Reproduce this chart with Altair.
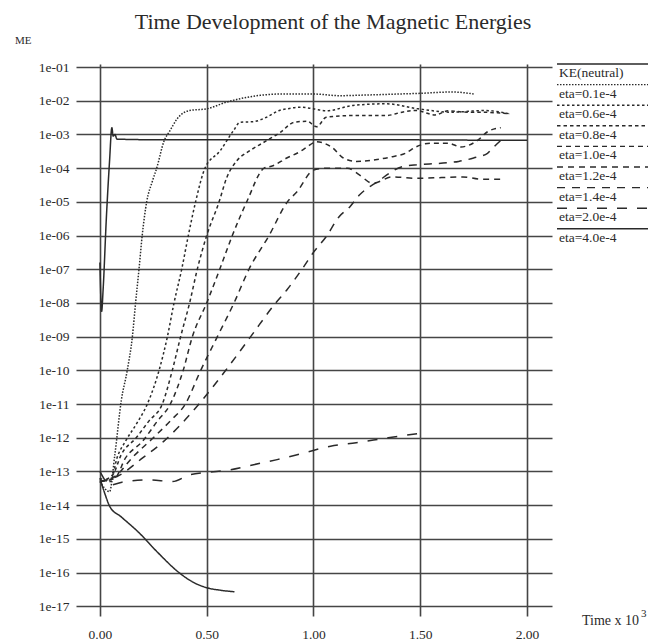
import altair as alt
import pandas as pd

# ---------------- data (log10 of ME) ----------------
series_names = ["KE(neutral)", "eta=0.1e-4", "eta=0.6e-4", "eta=0.8e-4", "eta=1.0e-4",
                "eta=1.2e-4", "eta=1.4e-4", "eta=2.0e-4", "eta=4.0e-4"]

t_ke = [0.0, 0.008, 0.015, 0.03, 0.045, 0.056, 0.062, 0.07, 0.08, 0.3, 0.6, 1.0, 1.4, 1.8, 2.0]
lg_ke = [-6.8, -8.25, -7.6, -5.5, -3.8, -2.8, -3.05, -3.0, -3.14, -3.16, -3.16, -3.16, -3.16, -3.17, -3.17]

t_01 = [0.0, 0.045, 0.07, 0.1, 0.128, 0.152, 0.167, 0.183, 0.198, 0.219, 0.245, 0.266, 0.3,
        0.328, 0.36, 0.42, 0.5, 0.594, 0.75, 0.85, 1.0, 1.12, 1.25, 1.4, 1.5, 1.65, 1.75]
lg_01 = [-13.3, -13.6, -12.5, -10.9, -10.0, -9.0, -8.0, -7.0, -6.0, -5.0, -4.4, -4.0, -3.2,
         -2.89, -2.55, -2.29, -2.24, -2.04, -1.84, -1.8, -1.8, -1.85, -1.83, -1.8, -1.78, -1.74, -1.8]

t_06 = [0.0, 0.05, 0.08, 0.12, 0.17, 0.222, 0.277, 0.316, 0.347, 0.383, 0.414, 0.448, 0.492,
        0.5625, 0.625, 0.656, 0.72, 0.78, 0.84, 0.877, 0.94, 1.0, 1.06, 1.185, 1.34, 1.49, 1.65, 1.8, 1.92]
lg_06 = [-13.2, -13.3, -12.6, -12.1, -11.6, -11.0, -10.0, -9.0, -8.0, -7.0, -6.0, -5.0, -4.0,
         -3.49, -2.89, -2.64, -2.62, -2.49, -2.29, -2.24, -2.19, -2.24, -2.3, -2.14, -2.09, -2.24, -2.34, -2.29, -2.39]

t_08 = [0.0, 0.06, 0.1, 0.17, 0.23, 0.292, 0.339, 0.378, 0.42, 0.456, 0.5, 0.558, 0.594, 0.64,
        0.70, 0.766, 0.844, 0.91, 0.97, 1.015, 1.06, 1.185, 1.34, 1.415, 1.48, 1.57, 1.63, 1.72, 1.785, 1.86, 1.92]
lg_08 = [-13.3, -13.1, -12.5, -12.0, -11.5, -11.0, -10.0, -9.0, -8.0, -7.0, -6.0, -5.0, -4.28, -3.79,
         -3.49, -3.24, -2.94, -2.64, -2.61, -2.77, -2.49, -2.44, -2.44, -2.34, -2.29, -2.42, -2.3, -2.34, -2.34, -2.36, -2.39]

t_10 = [0.0, 0.07, 0.12, 0.2, 0.27, 0.33, 0.39, 0.433, 0.5, 0.561, 0.62, 0.6875, 0.769, 0.81,
        0.875, 0.94, 0.97, 1.015, 1.09, 1.14, 1.2, 1.29, 1.37, 1.43, 1.48, 1.55, 1.63, 1.69, 1.77, 1.815, 1.877]
lg_10 = [-13.3, -13.2, -12.6, -12.1, -11.5, -11.0, -10.0, -9.0, -8.0, -7.0, -6.0, -5.0, -4.0, -3.93,
         -3.7, -3.5, -3.37, -3.22, -3.4, -3.7, -3.8, -3.75, -3.66, -3.56, -3.37, -3.26, -3.26, -3.37, -3.17, -2.92, -2.8]

t_12 = [0.0, 0.08, 0.15, 0.25, 0.33, 0.40, 0.472, 0.55, 0.628, 0.698, 0.792, 0.878, 0.923, 1.0,
        1.06, 1.16, 1.215, 1.277, 1.37, 1.48, 1.6, 1.7, 1.785, 1.885]
lg_12 = [-13.3, -13.1, -12.6, -12.0, -11.5, -11.0, -10.0, -9.0, -8.0, -7.0, -6.0, -5.0, -4.7, -4.06,
         -4.0, -4.0, -4.2, -4.45, -4.26, -4.3, -4.28, -4.26, -4.33, -4.33]

t_14 = [0.0, 0.08, 0.2, 0.3, 0.38, 0.464, 0.589, 0.706, 0.823, 0.877, 0.954, 1.0, 1.06, 1.12,
        1.17, 1.215, 1.3, 1.415, 1.49, 1.585, 1.68, 1.75, 1.815, 1.84, 1.89]
lg_14 = [-13.3, -13.15, -12.6, -12.1, -11.6, -11.0, -10.0, -9.0, -8.0, -7.6, -6.93, -6.5, -6.03, -5.44,
         -5.15, -4.8, -4.4, -3.96, -3.9, -3.86, -3.8, -3.7, -3.56, -3.4, -3.1]

t_20 = [0.0, 0.05, 0.103, 0.23, 0.34, 0.42, 0.5, 0.61, 0.72, 0.83, 0.956, 1.08, 1.2, 1.35, 1.52]
lg_20 = [-13.0, -13.4, -13.32, -13.25, -13.3, -13.1, -13.03, -12.95, -12.8, -12.65, -12.45, -12.25, -12.15, -12.0, -11.85]

t_40 = [0.0, 0.02, 0.047, 0.1, 0.18, 0.27, 0.37, 0.44, 0.5, 0.57, 0.63]
lg_40 = [-13.2, -13.6, -14.05, -14.35, -14.8, -15.4, -16.0, -16.3, -16.45, -16.53, -16.57]

times = [t_ke, t_01, t_06, t_08, t_10, t_12, t_14, t_20, t_40]
logs = [lg_ke, lg_01, lg_06, lg_08, lg_10, lg_12, lg_14, lg_20, lg_40]

dash_styles = [[1, 0], [1.5, 1.5], [2.5, 2.5], [3.5, 3], [5, 4], [6, 5], [8, 7], [10, 10], [1, 0]]

y_tick_values = [10.0 ** -k for k in range(1, 18)]
x_tick_values = [0.0, 0.5, 1.0, 1.5, 2.0]

rows = []
for name, ts, ls in zip(series_names, times, logs):
    for t, l in zip(ts, ls):
        rows.append({"series": name, "t": t, "me": 10.0 ** l})
df = pd.DataFrame(rows)

# ---------------- styling ----------------
FONT = "Liberation Serif"
INK = "#2a2a2a"
GRID = "#454545"
W, H = 476, 552

one = pd.DataFrame({"a": [0]})

lines = alt.Chart(df).mark_line(strokeWidth=1.5, color=INK, interpolate="monotone").encode(
    x=alt.X("t:Q",
            scale=alt.Scale(domain=[-0.112, 2.117], nice=False, zero=False),
            axis=alt.Axis(values=x_tick_values, format=".2f", grid=True, gridColor=GRID,
                          gridWidth=1.6, gridOpacity=1, domain=False, ticks=False,
                          labelPadding=11, labelFont=FONT, labelFontSize=13.5, labelColor=INK,
                          labelOverlap=False, labelFlush=False, title=None)),
    y=alt.Y("me:Q",
            scale=alt.Scale(type="log", domain=[10 ** -17.29, 10 ** -0.91], nice=False),
            axis=alt.Axis(values=y_tick_values,
                          labelExpr="'1e-' + format(-round(log(datum.value)/LN10), '02d')",
                          grid=True, gridColor=GRID, gridWidth=1.6, gridOpacity=1,
                          domain=False, ticks=False, labelPadding=7, labelFont=FONT,
                          labelFontSize=13.5, labelColor=INK, labelOverlap=False,
                          labelFlush=False, title=None)),
    strokeDash=alt.StrokeDash("series:N",
                              scale=alt.Scale(domain=series_names, range=dash_styles),
                              legend=None),
    detail="series:N",
)

layers = [lines]

# legend drawn as in the original: a line sample above each label
LEG_X0, LEG_X1, LEG_STEP = 481, 572, 20.6
for i, (name, dash) in enumerate(zip(series_names, dash_styles)):
    layers.append(alt.Chart(one).mark_rule(strokeWidth=1.4, color=INK, strokeDash=dash).encode(
        x=alt.value(LEG_X0), x2=alt.value(LEG_X1), y=alt.value(LEG_STEP * i)))
    layers.append(alt.Chart(one).mark_text(align="left", baseline="middle", font=FONT,
                                           fontSize=13.5, color=INK, text=name).encode(
        x=alt.value(LEG_X0 + 2), y=alt.value(LEG_STEP * i + 9)))

# titles and axis captions
layers.append(alt.Chart(one).mark_text(align="center", baseline="middle", font=FONT,
                                       fontSize=22, color=INK,
                                       text="Time Development of the Magnetic Energies").encode(
    x=alt.value(257), y=alt.value(-42)))
layers.append(alt.Chart(one).mark_text(align="left", baseline="middle", font=FONT,
                                       fontSize=11, color=INK, text="ME").encode(
    x=alt.value(-61), y=alt.value(-23)))
layers.append(alt.Chart(one).mark_text(align="left", baseline="middle", font=FONT,
                                       fontSize=14, color=INK, text="Time x 10").encode(
    x=alt.value(506), y=alt.value(557)))
layers.append(alt.Chart(one).mark_text(align="left", baseline="middle", font=FONT,
                                       fontSize=11, color=INK, text="3").encode(
    x=alt.value(565), y=alt.value(550)))

chart = alt.layer(*layers).properties(
    width=W, height=H,
    autosize=alt.AutoSizeParams(type="none"),
    padding={"left": 68, "top": 56, "right": 100, "bottom": 24},
    background="white",
).configure_view(stroke=None)

chart.save("out.html", embed_options={"renderer": "svg", "actions": False})
